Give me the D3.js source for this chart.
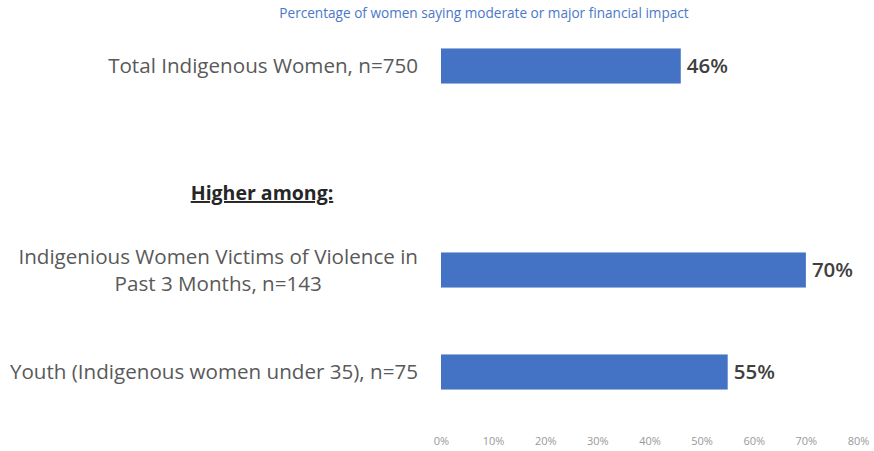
<!DOCTYPE html>
<html><head><meta charset="utf-8">
<script src="https://cdn.jsdelivr.net/npm/d3@7"></script>
<style>body{margin:0;background:#fff}</style>
</head><body>
<script>
const categories = ["Total Indigenous Women, n=750", "", "Indigenious Women Victims of Violence in|Past 3 Months, n=143", "Youth (Indigenous women under 35), n=75"];
const values = [46, null, 70, 55];
const tickValues = [0, 10, 20, 30, 40, 50, 60, 70, 80];
const title = "Percentage of women saying moderate or major financial impact";
const heading = "Higher among:";

const W = 874, H = 451;
const svg = d3.select("body").append("svg").attr("width", W).attr("height", H);
const font = "'Open Sans', sans-serif";

const x = d3.scaleLinear().domain([0, 80]).range([441, 858]);
const y = d3.scaleBand().domain(categories.map((c, i) => i)).range([15, 423])
  .paddingInner(0.656).paddingOuter(0.328);

svg.append("text").attr("x", 484).attr("y", 18).attr("text-anchor", "middle")
  .attr("font-family", font).attr("font-size", 13.6).attr("fill", "#4a78c8").text(title);

const data = categories.map((c, i) => ({c, i, v: values[i]})).filter(d => d.v != null);

svg.selectAll("rect.bar").data(data).enter().append("rect")
  .attr("x", x(0)).attr("y", d => y(d.i)).attr("width", d => x(d.v) - x(0))
  .attr("height", y.bandwidth()).attr("fill", "#4472C4");

svg.selectAll("text.val").data(data).enter().append("text")
  .attr("x", d => x(d.v) + 6).attr("y", d => y(d.i) + y.bandwidth() / 2 + 7)
  .attr("font-family", font).attr("font-weight", 600).attr("font-size", 20.5)
  .attr("fill", "#404040").text(d => d.v + "%");

const lab = 20.6;
data.forEach(d => {
  const lines = d.c.split("|");
  const cy = y(d.i) + y.bandwidth() / 2;
  if (lines.length === 1) {
    svg.append("text").attr("x", 418).attr("y", cy + 7).attr("text-anchor", "end")
      .attr("font-family", font).attr("font-size", lab).attr("fill", "#595959").text(lines[0]);
  } else {
    const t1 = svg.append("text").attr("x", 418).attr("y", cy - 6).attr("text-anchor", "end")
      .attr("font-family", font).attr("font-size", lab).attr("fill", "#595959").text(lines[0]);
    const w = t1.node().getComputedTextLength();
    svg.append("text").attr("x", 418 - w / 2).attr("y", cy + 21).attr("text-anchor", "middle")
      .attr("font-family", font).attr("font-size", lab).attr("fill", "#595959").text(lines[1]);
  }
});

svg.append("text").attr("x", 262).attr("y", 200).attr("text-anchor", "middle")
  .attr("font-family", font).attr("font-weight", "bold").attr("font-size", 19.5)
  .attr("text-decoration", "underline").attr("fill", "#262626").text(heading);

const axis = d3.axisBottom(x).tickValues(tickValues).tickFormat(d => d + "%").tickSize(0).tickPadding(0);
const g = svg.append("g").attr("transform", "translate(0,437)").call(axis);
g.select(".domain").remove();
g.selectAll("text").attr("font-family", font).attr("font-size", 11).attr("fill", "#999999");
</script>
</body></html>
